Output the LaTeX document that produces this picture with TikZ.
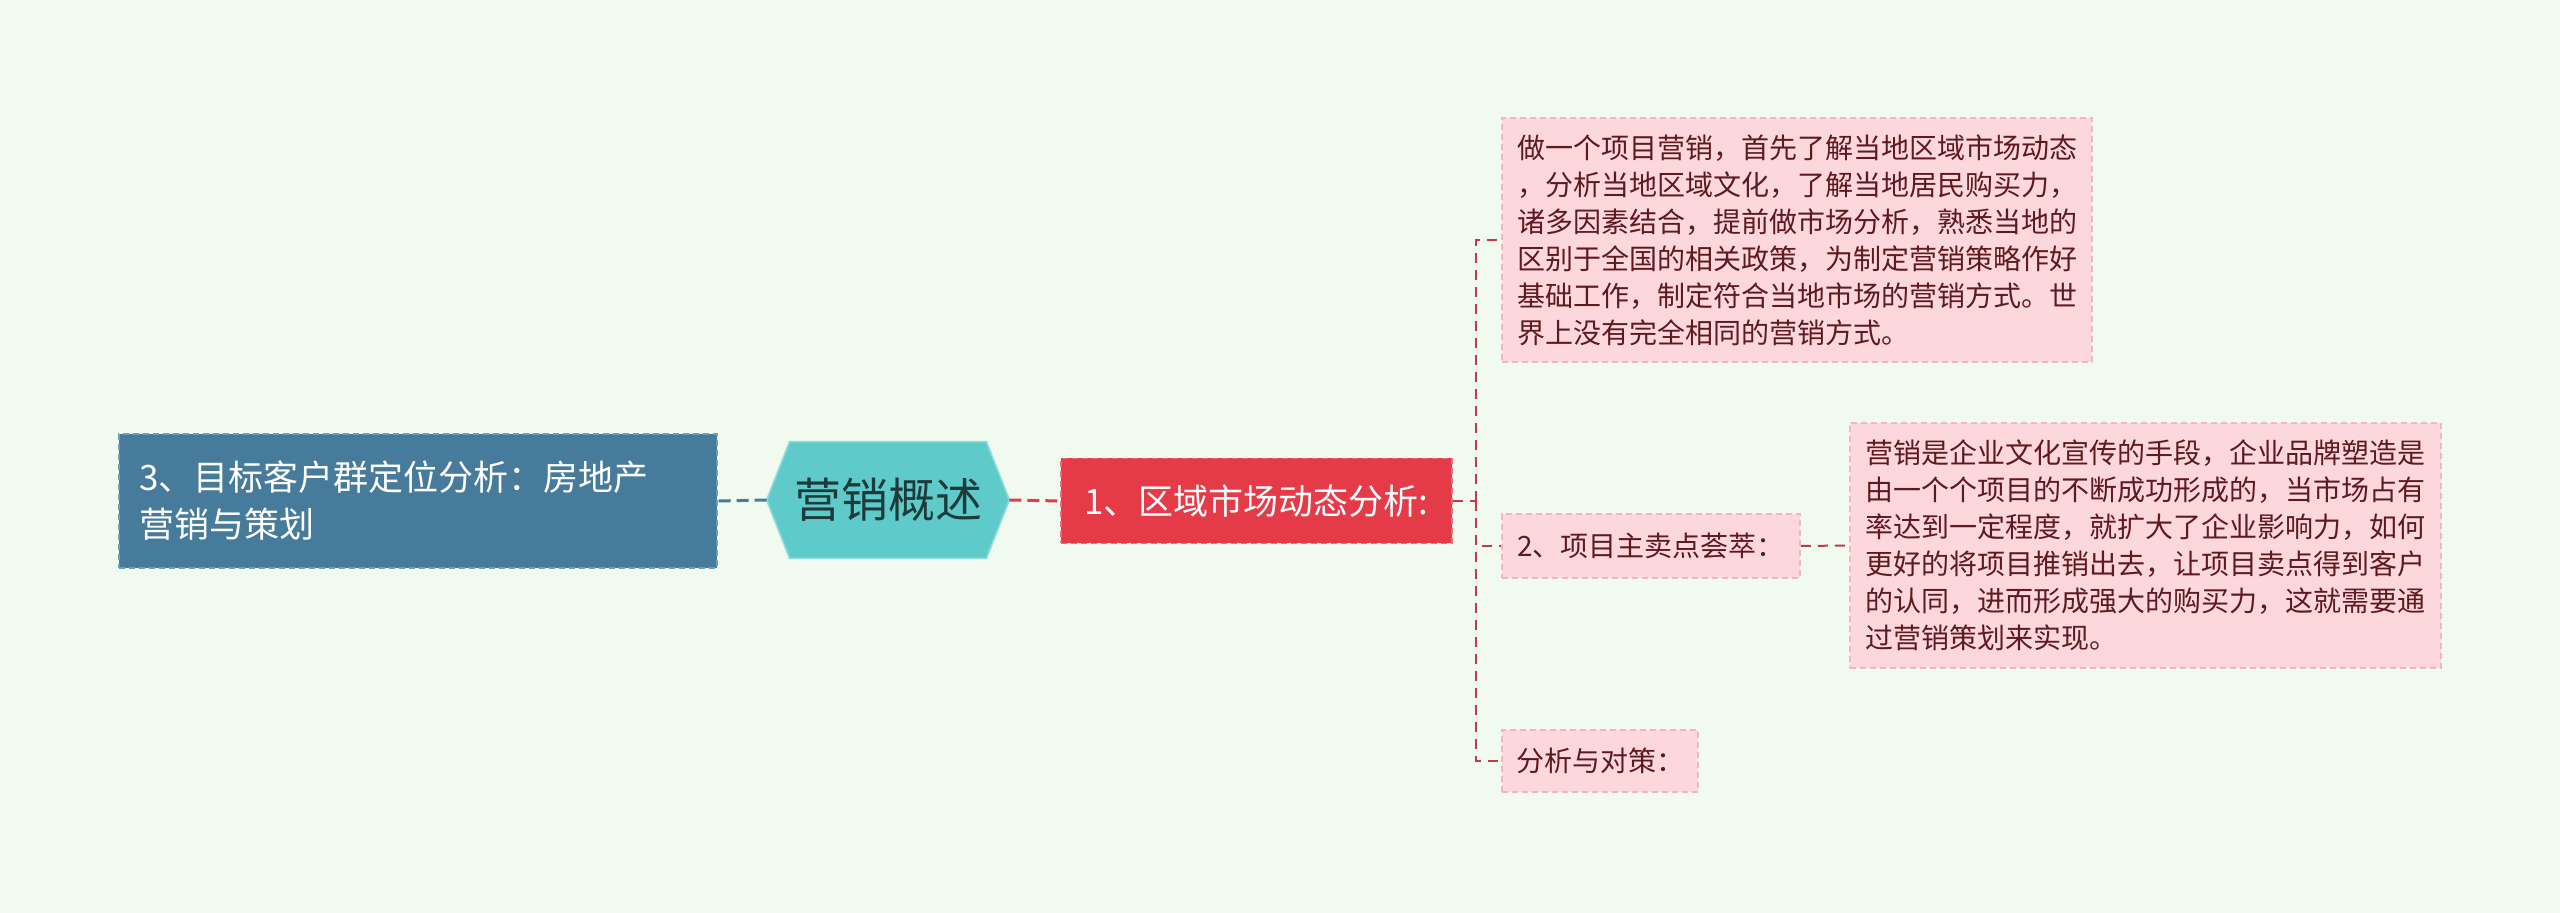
\documentclass[tikz,border=0pt]{standalone}
\usepackage{fontspec}
\setmainfont{Noto Sans CJK SC}
\definecolor{bg}{HTML}{F0FAEF}
\definecolor{bluefill}{HTML}{477B9B}
\definecolor{blueline}{HTML}{6F9DBB}
\definecolor{tealfill}{HTML}{5ECBCA}
\definecolor{tealline}{HTML}{8FDCDB}
\definecolor{tealtext}{HTML}{1E3B3C}
\definecolor{redfill}{HTML}{E53A48}
\definecolor{redline}{HTML}{F06A75}
\definecolor{pinkfill}{HTML}{FCD8DC}
\definecolor{pinkline}{HTML}{F3B5BE}
\definecolor{maroon}{HTML}{5E1A1E}
\definecolor{conred}{HTML}{C2394A}
\begin{document}
\begin{tikzpicture}[x=0.5pt,y=-0.5pt,
  boxdash/.style={dash pattern=on 3pt off 2pt, line width=0.8pt},
  pinkbox/.style={fill=pinkfill, draw=pinkline, boxdash, text=maroon,
    font=\fontsize{14pt}{18.5pt}\selectfont, align=left, inner sep=0pt},
  conn/.style={draw=conred, line width=1pt, dash pattern=on 5pt off 3.5pt},
]
\fill[bg] (0,0) rectangle (2560,913);
\useasboundingbox (0,0) rectangle (2560,913);

% left blue box
\node[fill=bluefill, draw=blueline, boxdash, text=white, align=left,
  text width=279pt, inner xsep=10pt, inner ysep=0pt, minimum width=299pt, minimum height=67pt,
  font=\fontsize{17.5pt}{23.5pt}\selectfont] (L) at (418,501)
  {3、目标客户群定位分析：房地产\\营销与策划};

% center hexagon
\node[minimum width=121pt, minimum height=58pt, inner sep=0pt] (C) at (888,500) {};
\filldraw[fill=tealfill, draw=tealline, line width=0.8pt]
  (C.west) -- ([xshift=11.5pt]C.north west) -- ([xshift=-11.5pt]C.north east)
  -- (C.east) -- ([xshift=-11.5pt]C.south east) -- ([xshift=11.5pt]C.south west) -- cycle;
\node[text=tealtext, font=\fontsize{23.5pt}{28pt}\selectfont, inner sep=0pt] (Ct) at (C.center) {营销概述};

% red box
\node[fill=redfill, draw=redline, boxdash, text=white, inner sep=0pt,
  minimum width=195.5pt, minimum height=42.5pt,
  font=\fontsize{17.5pt}{23.5pt}\selectfont] (R) at (1256.5,501) {1、区域市场动态分析:};

% right boxes
\node[pinkbox, minimum width=295pt, minimum height=122pt] (T) at (1797,240)
  {做一个项目营销，首先了解当地区域市场动态\\，分析当地区域文化，了解当地居民购买力，\\诸多因素结合，提前做市场分析，熟悉当地的\\区别于全国的相关政策，为制定营销策略作好\\基础工作，制定符合当地市场的营销方式。世\\界上没有完全相同的营销方式。};
\node[pinkbox, minimum width=149pt, minimum height=32pt] (M) at (1651,546) {2、项目主卖点荟萃：};
\node[pinkbox, minimum width=295.5pt, minimum height=122.5pt] (B) at (2145.5,545.5)
  {营销是企业文化宣传的手段，企业品牌塑造是\\由一个个项目的不断成功形成的，当市场占有\\率达到一定程度，就扩大了企业影响力，如何\\更好的将项目推销出去，让项目卖点得到客户\\的认同，进而形成强大的购买力，这就需要通\\过营销策划来实现。};
\node[pinkbox, minimum width=98pt, minimum height=31pt] (D) at (1600,761) {分析与对策：};

% connectors
\draw[draw=bluefill, line width=1.5pt, dash pattern=on 6pt off 3pt] (C.west) -- (L.east);
\draw[draw=redfill, line width=1.5pt, dash pattern=on 6pt off 3pt] (C.east) -- (R.west);
\coordinate (sp) at (1476,501);
\draw[conn] (R.east) -- (sp);
\draw[conn] (sp) |- (T.west);
\draw[conn] (sp) |- (M.west);
\draw[conn] (sp) |- (D.west);
\draw[conn] (M.east) -- (B.west);
\end{tikzpicture}
\end{document}
